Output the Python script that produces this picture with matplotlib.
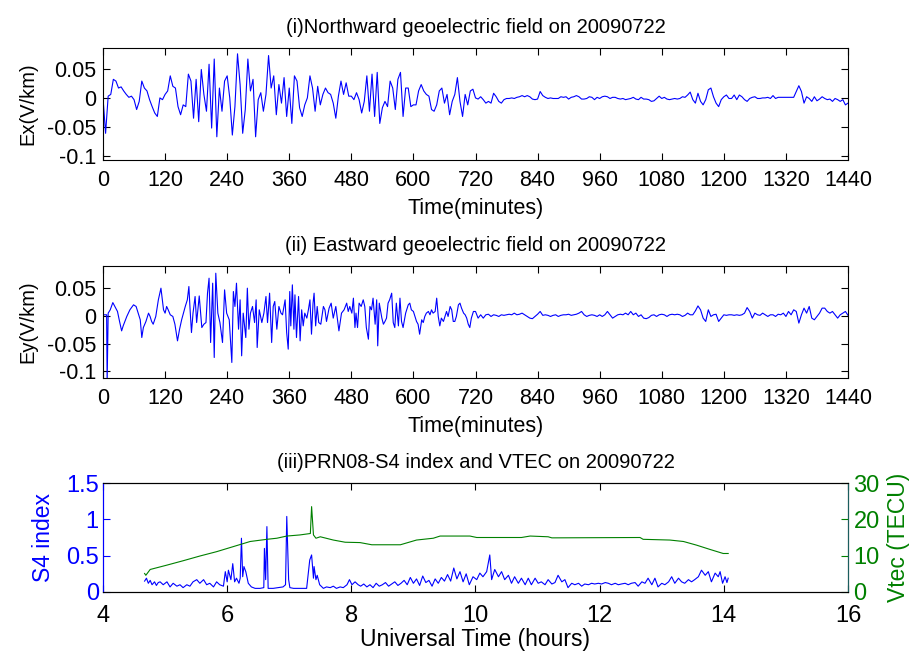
import numpy as np
import matplotlib
matplotlib.use('Agg')
import matplotlib.pyplot as plt

plt.rcParams['font.family'] = ['Liberation Sans', 'DejaVu Sans']

# (i) Ex, 5분 간격 (0~1440 분)
ex_a = [0.000, -0.061, 0.003, 0.006, 0.032, 0.029, 0.017, 0.019, 0.012, 0.006, 0.001, 0.003,
        -0.003, -0.020, -0.006, 0.029, 0.017, 0.012, -0.003, -0.015, -0.026, -0.032, 0.000, -0.003,
        0.006, 0.012, 0.038, 0.020, 0.017, -0.015, -0.029, -0.012, -0.015, 0.041, 0.029, -0.035,
        0.032, -0.041, 0.049, 0.006, -0.023, 0.058, -0.052, 0.067, -0.067, 0.017, -0.023, 0.029,
        0.038, 0.000, -0.064, -0.015, 0.076, 0.023, -0.061, -0.020, 0.067, 0.012, 0.032, -0.067,
        -0.003, 0.009, -0.023, 0.006, 0.073, 0.017, 0.038, -0.029, 0.023, -0.009, 0.035, -0.032,
        0.017]
ex_b = [-0.044, 0.038, 0.029, -0.017, -0.032, -0.012, 0.000, 0.038, 0.017, -0.023, 0.020, -0.012,
        0.006, 0.017, 0.009, 0.006, -0.009, -0.035, 0.003, 0.029, 0.006, 0.026, 0.003, 0.003,
        -0.003, 0.009, -0.003, -0.026, -0.006, 0.038, -0.023, 0.041, -0.032, 0.044, -0.044, -0.017,
        -0.006, -0.015, 0.029, 0.017, -0.020, 0.032, 0.044, -0.032, 0.017, 0.017, -0.015, -0.012,
        -0.012, 0.012, 0.023, 0.012, 0.006, 0.003, -0.020, -0.023, -0.012, 0.012, 0.017, -0.009,
        0.006, -0.029, -0.006, 0.006, 0.035, -0.006, -0.032, 0.006, -0.012, 0.012, 0.015, 0.000]
ex_c = [-0.002, 0.002, -0.003, -0.009, -0.006, -0.009, 0.008, 0.002, -0.006, -0.009, -0.003, -0.001,
        -0.001, 0.000, -0.001, 0.001, 0.002, 0.004, 0.002, 0.004, 0.002, -0.002, -0.003, -0.002,
        0.011, 0.004, 0.001, -0.001, 0.000, -0.001, -0.001, -0.001, 0.002, 0.001, 0.002, -0.002,
        0.001, 0.002, 0.004, 0.002, -0.002, -0.002, -0.001, 0.002, 0.001, -0.003, 0.001, -0.001,
        0.002, 0.003, 0.002, -0.001, 0.001, 0.001, -0.001, -0.002, -0.001, -0.003, -0.002, -0.001,
        0.001, -0.002, -0.003, 0.001, -0.002, -0.002, -0.003, -0.006, -0.005, -0.001, 0.003, -0.001,
        0.001, -0.002, -0.003, -0.002, -0.001, -0.002, -0.001, 0.002, 0.001, 0.005, 0.010, -0.003,
        -0.009, 0.008, -0.006, -0.012, -0.003, 0.014, 0.017, 0.002, -0.009, -0.015, -0.003, 0.002,
        0.005, -0.001, -0.001, 0.005, -0.003, 0.005, 0.002, -0.003, -0.006, -0.001, 0.001, 0.002,
        -0.001, -0.001, 0.000, 0.000, 0.001, -0.001, 0.004, -0.001, 0.001, 0.001, 0.001, 0.001,
        0.001, 0.001, 0.001, 0.011, 0.021, 0.011, -0.009, 0.002, -0.001, -0.006, 0.002, -0.005,
        -0.002, 0.002, -0.001, -0.003, -0.002, -0.006, -0.001, -0.003, -0.006, -0.003, -0.012, -0.009]

# (ii) Ey, 활동 구간 (분, 값)
ey_active = [
    (0, 0.002), (7, 0.002), (8, -0.12), (10, 0.005), (14, 0.011), (19, 0.024), (23, 0.017),
    (28, 0.008), (32, -0.010), (36, -0.027), (39, -0.018), (46, -0.001), (52, 0.011), (59, 0.020),
    (64, 0.017), (68, 0.005), (72, -0.007), (75, -0.039), (78, -0.021), (83, -0.010), (88, 0.005),
    (91, -0.001), (94, -0.010), (97, -0.015), (102, -0.001), (107, 0.029), (112, 0.050), (117, 0.011),
    (120, 0.005), (123, 0.017), (126, 0.011), (130, 0.002), (135, -0.001), (139, -0.015), (144, -0.045),
    (148, -0.024), (152, -0.007), (159, 0.017), (163, 0.029), (166, 0.053), (168, 0.017), (171, -0.030),
    (174, 0.005), (178, 0.035), (181, -0.012), (186, 0.036), (191, -0.021), (195, -0.015), (199, -0.012),
    (202, 0.041), (205, 0.068), (208, -0.048), (212, 0.059), (215, -0.075), (218, 0.077), (222, 0.005),
    (226, -0.012), (231, -0.048), (235, 0.047), (239, 0.005), (244, -0.007), (249, -0.084), (252, 0.044),
    (255, 0.017), (258, 0.059), (262, -0.024), (265, 0.029), (268, -0.072), (271, 0.005), (276, -0.039),
    (279, 0.050), (282, -0.024), (285, 0.005), (289, 0.017), (293, -0.012), (296, 0.029), (298, -0.057),
    (302, 0.011), (307, -0.012), (311, 0.005), (315, 0.035), (318, -0.012), (322, 0.041), (326, -0.048),
    (329, 0.017), (332, 0.026), (336, -0.024), (340, 0.017), (344, 0.005), (347, 0.002), (352, 0.029),
    (355, -0.030), (358, -0.060), (361, 0.044), (363, -0.018), (366, 0.056), (369, -0.024), (371, 0.038),
    (374, -0.039), (378, 0.035), (381, -0.045), (384, 0.011), (387, -0.018), (390, 0.005), (394, -0.004),
    (397, 0.011), (400, 0.029), (403, -0.033), (406, 0.023), (408, 0.041), (411, -0.018), (414, 0.017),
    (417, -0.012), (421, -0.015), (426, 0.017), (429, 0.011), (432, -0.010), (437, 0.014), (441, 0.023),
    (445, -0.004), (450, 0.017), (454, -0.012), (456, -0.027), (461, 0.005), (466, 0.011), (471, 0.023),
    (474, 0.008), (477, 0.017), (481, 0.005), (484, 0.032), (487, -0.021), (489, 0.005), (492, -0.021),
    (495, 0.023), (499, 0.017), (503, 0.029), (506, 0.017), (509, -0.021), (513, -0.042), (516, 0.017),
    (519, 0.011), (522, 0.032), (526, -0.015), (529, 0.029), (531, -0.054), (534, 0.023), (539, -0.004),
    (542, -0.015), (545, -0.010), (548, -0.004), (551, 0.023), (554, 0.029), (558, 0.041), (561, -0.012),
    (564, -0.021), (567, 0.023), (571, -0.018), (574, 0.032), (577, -0.010), (580, -0.021), (585, 0.005),
    (590, 0.020), (593, 0.023), (596, 0.011), (600, 0.008), (603, -0.001), (606, -0.010), (609, -0.015),
    (612, -0.033), (616, -0.007), (619, -0.012), (622, -0.001), (625, 0.005), (629, 0.008), (632, 0.002),
    (635, 0.011), (638, 0.005), (642, 0.008), (645, 0.032), (648, -0.001), (651, -0.018), (654, -0.004),
    (658, -0.010), (661, -0.001), (664, 0.008), (667, -0.001), (671, 0.017), (674, 0.011), (677, -0.010),
    (680, -0.010), (683, -0.001), (687, 0.020), (690, 0.023), (693, 0.014), (697, 0.005), (700, 0.002),
    (703, -0.004), (706, -0.015), (709, -0.021), (712, -0.004), (716, 0.008), (720, 0.008)]
# Ey 조용한 구간, 725분부터 5분 간격
ey_quiet = [-0.004, 0.002, -0.004, 0.002, 0.003, -0.001, 0.002, 0.001, -0.001, 0.002, 0.001, 0.002,
            0.003, 0.002, 0.005, 0.002, 0.003, 0.005, 0.002, -0.001, -0.004, -0.005, -0.001, 0.003,
            0.008, 0.001, 0.002, 0.001, -0.001, 0.001, 0.002, -0.001, 0.001, 0.002, 0.002, 0.003,
            0.001, 0.002, 0.003, 0.005, 0.008, 0.002, -0.001, 0.001, 0.002, 0.001, -0.001, 0.002,
            -0.001, 0.002, 0.008, 0.002, -0.004, -0.001, 0.002, 0.003, 0.002, 0.005, 0.002, 0.008,
            0.002, 0.005, -0.001, 0.002, -0.004, -0.005, -0.003, 0.001, 0.002, -0.001, 0.002, 0.003,
            0.002, -0.001, 0.002, 0.003, 0.002, 0.003, 0.002, -0.001, 0.001, 0.005, 0.002, 0.002,
            0.009, 0.018, 0.011, -0.004, -0.010, 0.011, -0.001, 0.002, 0.003, -0.010, -0.004, 0.002,
            0.001, 0.002, 0.002, 0.001, 0.002, 0.001, 0.002, 0.005, 0.015, 0.008, -0.004, 0.005,
            0.002, 0.001, 0.005, 0.002, -0.001, 0.002, 0.002, -0.001, 0.003, 0.002, 0.005, -0.001,
            0.008, 0.002, 0.011, 0.008, -0.013, 0.002, 0.014, 0.005, 0.017, -0.004, -0.007, -0.001,
            0.005, 0.014, 0.014, 0.008, 0.005, 0.008, 0.002, -0.004, 0.002, 0.005, 0.008, 0.001]

# (iii) VTEC (시간, TECU)
vtec = [(4.67, 5.1), (4.69, 4.6), (4.76, 6.2), (5.03, 7.4), (5.29, 8.6), (5.56, 9.9), (5.83, 11.1),
        (6.10, 12.5), (6.37, 13.9), (6.64, 14.5), (6.80, 14.8), (6.96, 15.4), (7.17, 15.7), (7.34, 16.1),
        (7.36, 23.5), (7.39, 15.7), (7.43, 14.8), (7.50, 15.2), (7.71, 14.3), (7.90, 13.7), (8.14, 13.6),
        (8.33, 13.0), (8.79, 13.0), (9.05, 14.3), (9.32, 14.8), (9.43, 15.4), (9.91, 15.4), (10.02, 15.0),
        (10.74, 15.0), (10.88, 15.4), (11.17, 15.2), (11.23, 14.9), (12.65, 15.0), (12.70, 14.5),
        (13.13, 14.3), (13.35, 13.9), (13.56, 12.9), (13.78, 11.7), (13.99, 10.6), (14.07, 10.6)]

# (iii) S4 index (시간, 값)
s4 = [(4.67, 0.15), (4.70, 0.19), (4.73, 0.12), (4.76, 0.16), (4.79, 0.10), (4.83, 0.14), (4.86, 0.09),
      (4.89, 0.13), (4.92, 0.14), (4.97, 0.10), (5.03, 0.14), (5.08, 0.07), (5.13, 0.12), (5.19, 0.08),
      (5.24, 0.10), (5.29, 0.06), (5.35, 0.10), (5.40, 0.08), (5.45, 0.14), (5.51, 0.17), (5.56, 0.12),
      (5.62, 0.17), (5.67, 0.10), (5.72, 0.12), (5.78, 0.07), (5.83, 0.14), (5.88, 0.10), (5.94, 0.08),
      (5.97, 0.28), (6.00, 0.14), (6.02, 0.30), (6.06, 0.17), (6.09, 0.39), (6.12, 0.14), (6.15, 0.19),
      (6.19, 0.12), (6.21, 0.19), (6.23, 0.74), (6.25, 0.21), (6.27, 0.35), (6.30, 0.28), (6.34, 0.12),
      (6.39, 0.07), (6.45, 0.05), (6.53, 0.05), (6.59, 0.06), (6.60, 0.60), (6.62, 0.17), (6.64, 0.90),
      (6.66, 0.05), (6.74, 0.05), (6.82, 0.06), (6.90, 0.07), (6.94, 0.10), (6.96, 1.04), (6.99, 0.17),
      (7.01, 0.06), (7.07, 0.05), (7.17, 0.05), (7.28, 0.05), (7.33, 0.44), (7.36, 0.51), (7.39, 0.19),
      (7.40, 0.35), (7.43, 0.17), (7.45, 0.23), (7.49, 0.10), (7.55, 0.05), (7.60, 0.07), (7.66, 0.06),
      (7.71, 0.08), (7.76, 0.05), (7.82, 0.07), (7.87, 0.06), (7.93, 0.10), (7.97, 0.17), (8.01, 0.10),
      (8.06, 0.14), (8.11, 0.10), (8.15, 0.08), (8.20, 0.11), (8.25, 0.07), (8.30, 0.10), (8.35, 0.06),
      (8.40, 0.12), (8.45, 0.08), (8.50, 0.10), (8.55, 0.13), (8.60, 0.08), (8.65, 0.11), (8.70, 0.14),
      (8.75, 0.09), (8.80, 0.12), (8.85, 0.16), (8.90, 0.10), (8.95, 0.20), (9.00, 0.12), (9.05, 0.18),
      (9.10, 0.09), (9.15, 0.22), (9.20, 0.13), (9.25, 0.16), (9.30, 0.08), (9.35, 0.18), (9.40, 0.12),
      (9.45, 0.20), (9.50, 0.15), (9.55, 0.24), (9.60, 0.15), (9.65, 0.33), (9.70, 0.18), (9.75, 0.28),
      (9.80, 0.14), (9.85, 0.25), (9.90, 0.10), (9.96, 0.21), (10.02, 0.17), (10.07, 0.26), (10.12, 0.21),
      (10.18, 0.28), (10.23, 0.51), (10.26, 0.17), (10.31, 0.31), (10.37, 0.21), (10.42, 0.28), (10.47, 0.17),
      (10.53, 0.23), (10.58, 0.12), (10.63, 0.21), (10.69, 0.12), (10.74, 0.19), (10.80, 0.10), (10.85, 0.19),
      (10.90, 0.10), (10.96, 0.19), (11.01, 0.12), (11.06, 0.14), (11.12, 0.10), (11.17, 0.17), (11.23, 0.11),
      (11.28, 0.13), (11.33, 0.23), (11.39, 0.14), (11.44, 0.17), (11.49, 0.06), (11.55, 0.12), (11.60, 0.10),
      (11.66, 0.12), (11.71, 0.08), (11.76, 0.11), (11.82, 0.10), (11.87, 0.12), (11.92, 0.11), (11.98, 0.12),
      (12.03, 0.11), (12.09, 0.13), (12.14, 0.12), (12.19, 0.10), (12.25, 0.12), (12.30, 0.10), (12.35, 0.11),
      (12.41, 0.12), (12.46, 0.10), (12.51, 0.12), (12.57, 0.13), (12.62, 0.08), (12.68, 0.14), (12.73, 0.12),
      (12.78, 0.19), (12.84, 0.10), (12.89, 0.19), (12.94, 0.07), (13.00, 0.12), (13.05, 0.10), (13.11, 0.14),
      (13.16, 0.21), (13.21, 0.12), (13.27, 0.19), (13.32, 0.14), (13.37, 0.12), (13.43, 0.17), (13.48, 0.14),
      (13.53, 0.17), (13.59, 0.21), (13.64, 0.30), (13.70, 0.23), (13.75, 0.28), (13.80, 0.14), (13.86, 0.26),
      (13.91, 0.21), (13.94, 0.28), (13.98, 0.12), (14.02, 0.21), (14.05, 0.13), (14.07, 0.19)]

minute_ticks = list(range(0, 1441, 120))
hour_ticks = [4, 6, 8, 10, 12, 14, 16]

# 시간축 만들기
ex_t = np.concatenate([np.arange(len(ex_a)) * 5,
                       360 + 5 + np.arange(len(ex_b)) * 5,
                       720 + 5 + np.arange(len(ex_c)) * 5])
ex_v = np.array(ex_a + ex_b + ex_c)
ey_t = np.concatenate([[p[0] for p in ey_active], 725 + np.arange(len(ey_quiet)) * 5])
ey_v = np.concatenate([[p[1] for p in ey_active], ey_quiet])
vt_h, vt_v = zip(*vtec)
s4_h, s4_v = zip(*s4)

fig = plt.figure(figsize=(9.1, 6.52), dpi=100)
W, H = 910, 652

def box(l, t, r, b):
    return [l / W, 1 - b / H, (r - l) / W, (b - t) / H]

def geo_panel(rect, t, v, ylim, title, ylabel):
    ax = fig.add_axes(rect)
    ax.plot(t, v, color='#0000ff', linewidth=0.8)
    ax.set_xlim(0, 1440)
    ax.set_ylim(*ylim)
    ax.set_xticks(minute_ticks)
    ax.set_yticks([-0.1, -0.05, 0, 0.05])
    ax.set_yticklabels(['-0.1', '-0.05', '0', '0.05'])
    ax.tick_params(direction='in', top=True, right=True, length=5, labelsize=15.5)
    ax.tick_params(axis='x', pad=7)
    ax.tick_params(axis='y', pad=5)
    ax.set_title(title, fontsize=14.5, pad=11)
    ax.set_xlabel('Time(minutes)', fontsize=15.5, labelpad=5)
    ax.set_ylabel(ylabel, fontsize=14.5, labelpad=7)
    return ax

geo_panel(box(103, 48, 848, 160), ex_t, ex_v, (-0.107, 0.086),
          '(i)Northward geoelectric field on 20090722', 'Ex(V/km)')
geo_panel(box(103, 266, 848, 378), ey_t, ey_v, (-0.112, 0.090),
          '(ii) Eastward geoelectric field on 20090722', 'Ey(V/km)')

# (iii) 두 축 그래프
ax3 = fig.add_axes(box(103, 483, 848, 592))
ax3.plot(s4_h, s4_v, color='#0000ff', linewidth=0.8)
ax3.set_xlim(4, 16)
ax3.set_ylim(0, 1.5)
ax3.set_xticks(hour_ticks)
ax3.set_yticks([0, 0.5, 1, 1.5])
ax3.set_yticklabels(['0', '0.5', '1', '1.5'])
ax3.tick_params(direction='in', top=True, length=5, labelsize=17)
ax3.tick_params(axis='x', pad=9)
ax3.tick_params(axis='y', colors='#0000ff', pad=3)
ax3.spines['left'].set_color('#0000ff')
ax3.set_ylabel('S4 index', fontsize=16.5, color='#0000ff', labelpad=8)
ax3.set_xlabel('Universal Time (hours)', fontsize=16.5, labelpad=1)
ax3.set_title('(iii)PRN08-S4 index and VTEC on 20090722', fontsize=14.5, pad=11)

ax3r = ax3.twinx()
ax3r.plot(vt_h, vt_v, color='#008000', linewidth=0.8)
ax3r.set_ylim(0, 30)
ax3r.set_yticks([0, 10, 20, 30])
ax3r.tick_params(direction='in', length=5, labelsize=17, colors='#008000', pad=4)
ax3r.spines['right'].set_color('#1a5e5e')
ax3r.spines['left'].set_color('#0000ff')
ax3r.set_ylabel('Vtec (TECU)', fontsize=16.5, color='#008000', labelpad=5)

fig.savefig('out.png', dpi=100)
